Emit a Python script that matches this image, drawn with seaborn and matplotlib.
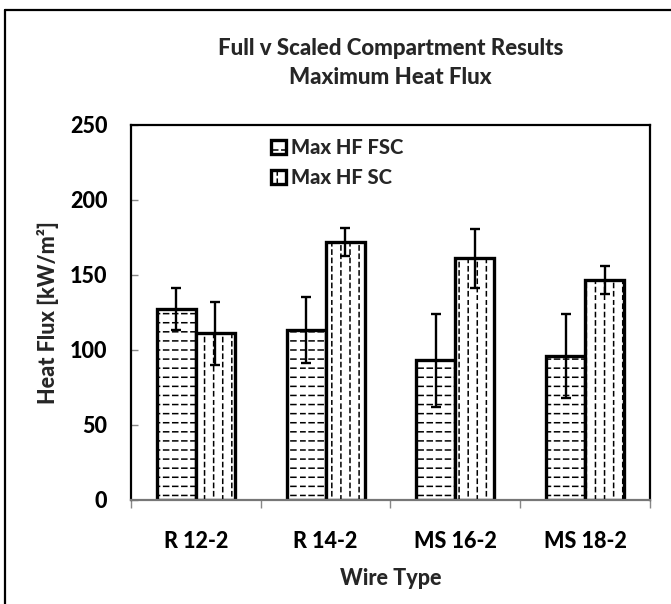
import matplotlib
matplotlib.use("Agg")
import matplotlib.pyplot as plt
import matplotlib.hatch as mhatch
from matplotlib.path import Path
from matplotlib.lines import Line2D
from matplotlib.ticker import FixedLocator
import seaborn as sns
import pandas as pd

# --- data ---
wire_types = ["R 12-2", "R 14-2", "MS 16-2", "MS 18-2"]
series_names = ["Max HF FSC", "Max HF SC"]
hf_fsc = [127, 113, 93, 96]
hf_sc = [111, 172, 161, 146.5]
err_fsc = [14, 22, 31, 28]
err_sc = [21, 9.5, 19.5, 9.5]


# Excel-like dashed hatches (replace the plain '-' and '|' patterns)
class DashedRows(mhatch.HatchPatternBase):
    def __init__(self, hatch, density):
        self.rows = 11 if "-" in hatch else 0
        self.dashes = 11
        self.num_vertices = self.rows * self.dashes * 2

    def set_vertices_and_codes(self, vertices, codes):
        k = 0
        for i in range(self.rows):
            y = (i + 0.5) / self.rows
            for j in range(self.dashes):
                x0 = j / self.dashes
                vertices[k] = (x0, y)
                vertices[k + 1] = (x0 + 0.55 / self.dashes, y)
                codes[k] = Path.MOVETO
                codes[k + 1] = Path.LINETO
                k += 2


class DashedCols(mhatch.HatchPatternBase):
    def __init__(self, hatch, density):
        self.cols = 11 if "|" in hatch else 0
        self.dashes = 12
        self.num_vertices = self.cols * self.dashes * 2

    def set_vertices_and_codes(self, vertices, codes):
        k = 0
        for i in range(self.cols):
            x = (i + 0.5) / self.cols
            shift = 0.5 / self.dashes if i % 2 else 0.0
            for j in range(self.dashes):
                y0 = j / self.dashes + shift
                vertices[k] = (x, y0)
                vertices[k + 1] = (x, y0 + 0.5 / self.dashes)
                codes[k] = Path.MOVETO
                codes[k + 1] = Path.LINETO
                k += 2


mhatch._hatch_types = [DashedRows if t is mhatch.HorizontalHatch else
                       DashedCols if t is mhatch.VerticalHatch else t
                       for t in mhatch._hatch_types]

sns.set_theme(style="white")
plt.rcParams["font.family"] = ["Lato", "DejaVu Sans"]
plt.rcParams["hatch.linewidth"] = 1.1
plt.rcParams["hatch.color"] = "black"
W = 900  # heavy weight, closest to the bold Calibri look

df = pd.DataFrame({
    "Wire Type": wire_types * 2,
    "Series": [series_names[0]] * 4 + [series_names[1]] * 4,
    "Heat Flux": hf_fsc + hf_sc,
})

fig = plt.figure(figsize=(6.71, 6.04), dpi=100)
ax = fig.add_axes([0.1952, 0.1722, 0.7735, 0.6209])

sns.barplot(data=df, x="Wire Type", y="Heat Flux", hue="Series",
            palette=["white", "white"], width=0.6, errorbar=None,
            edgecolor="black", linewidth=2.4, ax=ax, legend=False)

hatches = ["-", "|"]
errs = [err_fsc, err_sc]
vals = [hf_fsc, hf_sc]
for cont, h, e, v in zip(ax.containers, hatches, errs, vals):
    xs = []
    for bar in cont:
        bar.set_hatch(h)
        xs.append(bar.get_x() + bar.get_width() / 2)
    ax.errorbar(xs, v, yerr=e, fmt="none", ecolor="black",
                elinewidth=1.7, capsize=3.3, capthick=1.7, zorder=5)

ax.legend(handles=[c[0] for c in ax.containers], labels=series_names,
          loc="upper left", bbox_to_anchor=(0.245, 1.0), frameon=False,
          handlelength=0.75, handleheight=0.75, handletextpad=0.25,
          labelspacing=0.55, borderaxespad=0.25,
          prop={"weight": W, "size": 14.5})

ax.set_ylim(0, 250)
ax.set_xlim(-0.5, 3.5)
ax.set_yticks([0, 50, 100, 150, 200, 250])
ax.xaxis.set_minor_locator(FixedLocator([-0.5, 0.5, 1.5, 2.5, 3.5]))
ax.tick_params(axis="x", which="major", length=0, pad=22, labelsize=15.5)
ax.tick_params(axis="x", which="minor", bottom=True, length=6, width=1,
               color="#888888", direction="out")
ax.tick_params(axis="y", which="major", left=True, length=5, width=1,
               color="#888888", direction="in", pad=17, labelsize=15.5)
for lab in ax.get_xticklabels() + ax.get_yticklabels():
    lab.set_fontweight(W)
    lab.set_color("black")

ax.set_xlabel("Wire Type", fontsize=15.5, fontweight=W, labelpad=12)
ax.set_ylabel("Heat Flux [kW/m²]", fontsize=15.5, fontweight=W,
              labelpad=8)

for side, sp in ax.spines.items():
    sp.set_visible(True)
    sp.set_color("black")
    sp.set_linewidth(1.6)
ax.spines["bottom"].set_color("#777777")

fig.text(0.582, 0.896, "Full v Scaled Compartment Results\nMaximum Heat Flux",
         ha="center", va="center", fontsize=16, fontweight=W,
         linespacing=1.45)

# outer chart-area border (only top and left are in frame)
fig.add_artist(Line2D([0.0075, 1.0], [0.984, 0.984], color="black", lw=1.6,
                      transform=fig.transFigure))
fig.add_artist(Line2D([0.0075, 0.0075], [0.0, 0.984], color="black", lw=1.6,
                      transform=fig.transFigure))

fig.savefig("out.png", dpi=100)
